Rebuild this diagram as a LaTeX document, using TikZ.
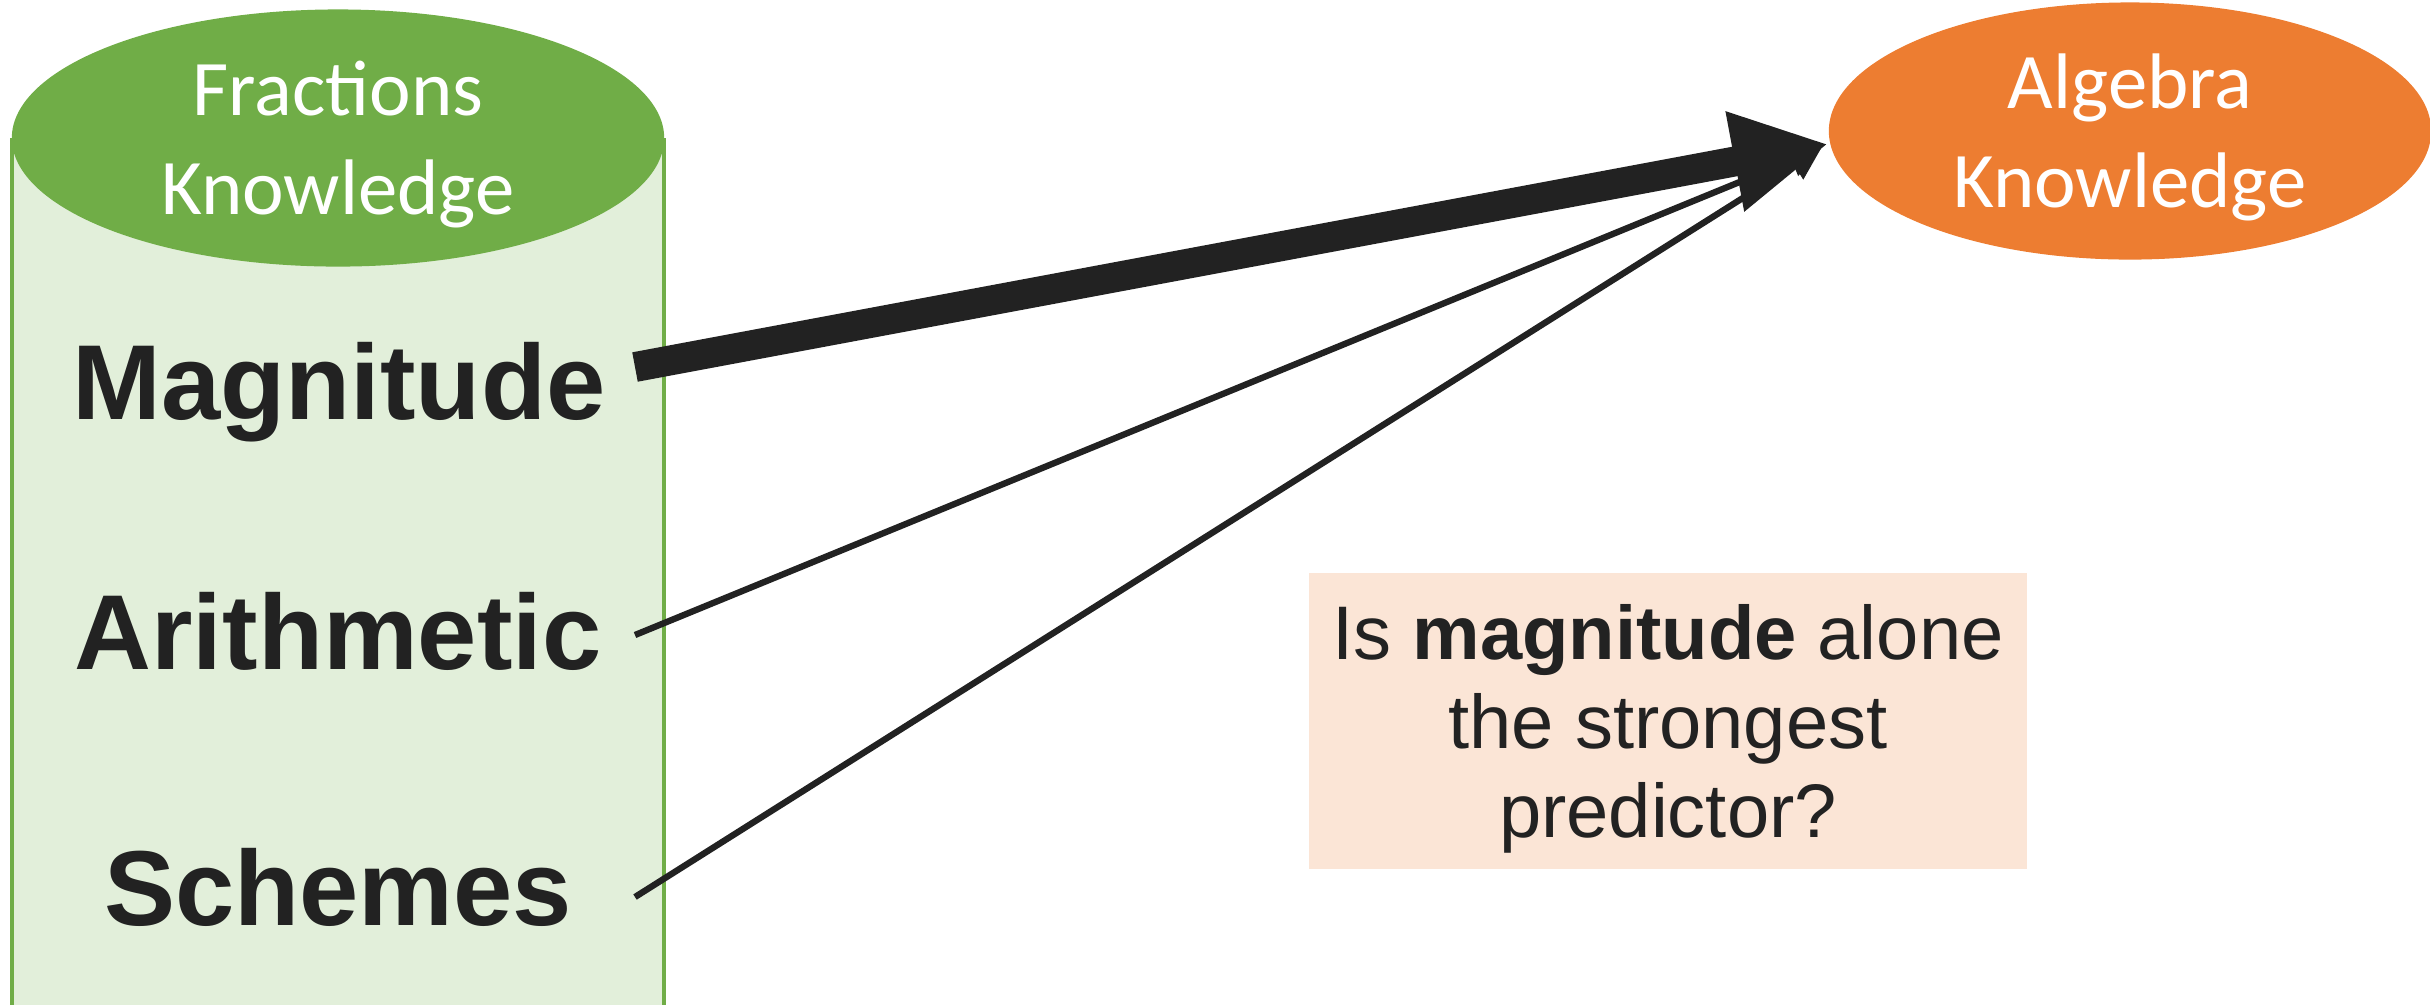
\documentclass[tikz,border=0pt]{standalone}
\usepackage{fontspec}
\setmainfont{Liberation Sans}
\newfontfamily\calibri{Carlito}
\usepackage{tikz}
\usetikzlibrary{arrows.meta, shapes.geometric}

\definecolor{fracgreen}{HTML}{70AD47}
\definecolor{fraclight}{HTML}{E2EFDA}
\definecolor{algorange}{HTML}{ED7D31}
\definecolor{qpeach}{HTML}{FBE5D6}
\definecolor{ink}{HTML}{222222}

\begin{document}
\begin{tikzpicture}[x=0.01cm, y=-0.01cm, line join=miter,
    blob/.style={ellipse, inner sep=0pt, minimum height=2.57cm},
    blobtext/.style={text=white, align=center, inner sep=0pt,
      font=\calibri\fontsize{22.4}{28}\selectfont},
    part/.style={anchor=base, text=ink, inner sep=0pt,
      font=\bfseries\fontsize{30.3}{36}\selectfont},
    weak/.style={-{Triangle[length=9pt, width=9pt]}, draw=ink, line width=1.8pt},
    strong/.style={-{Triangle[length=27pt, width=27pt]}, draw=ink, line width=8.5pt}]

  \useasboundingbox (0,0) rectangle (2430,1005);

  %--------------------------
  % Left: fractions cylinder
  %--------------------------
  \fill[fraclight] (12,138) rectangle (664,1005);
  \draw[fracgreen, line width=0.9pt] (12,138) -- (12,1005);
  \draw[fracgreen, line width=0.9pt] (664,138) -- (664,1005);
  \node[blob, fill=fracgreen, minimum width=6.52cm] (frac) at (338,138) {};
  \node[blobtext] (fractext) at ([yshift=-1.8pt]frac.center) {Fractions\\Knowledge};

  \node[part] (mag) at (339,419) {Magnitude};
  \node[part] (ari) at (338,669) {Arithmetic};
  \node[part] (sch) at (338,925) {Schemes};

  % arrow tails
  \coordinate (magout) at (635,367);
  \coordinate (ariout) at (635,635);
  \coordinate (schout) at (635,897);

  %--------------------------
  % Right: algebra
  %--------------------------
  \node[blob, fill=algorange, minimum width=6.02cm] (alg) at (2130,131) {};
  \node[blobtext] (algtext) at ([yshift=-1.8pt]alg.center) {Algebra\\Knowledge};

  % Arrows
  \draw[weak] (ariout) -- ([xshift=-2pt, yshift=-5pt]alg.west);
  \draw[weak] (schout) -- ([xshift=-2pt, yshift=-5pt]alg.west);
  \draw[strong] (magout) -- ([yshift=-3.7pt]alg.west);

  %--------------------------
  % Question box
  %--------------------------
  \node[fill=qpeach, minimum width=7.17cm, minimum height=2.96cm, inner sep=0pt]
    (quest) at (1668,721) {};
  \node[align=center, text=ink, inner sep=0pt, font=\fontsize{21.6}{25.3}\selectfont]
    (questtext) at ([yshift=-2.3pt]quest.center)
    {Is \textbf{magnitude} alone\\the strongest\\predictor?};

\end{tikzpicture}
\end{document}
